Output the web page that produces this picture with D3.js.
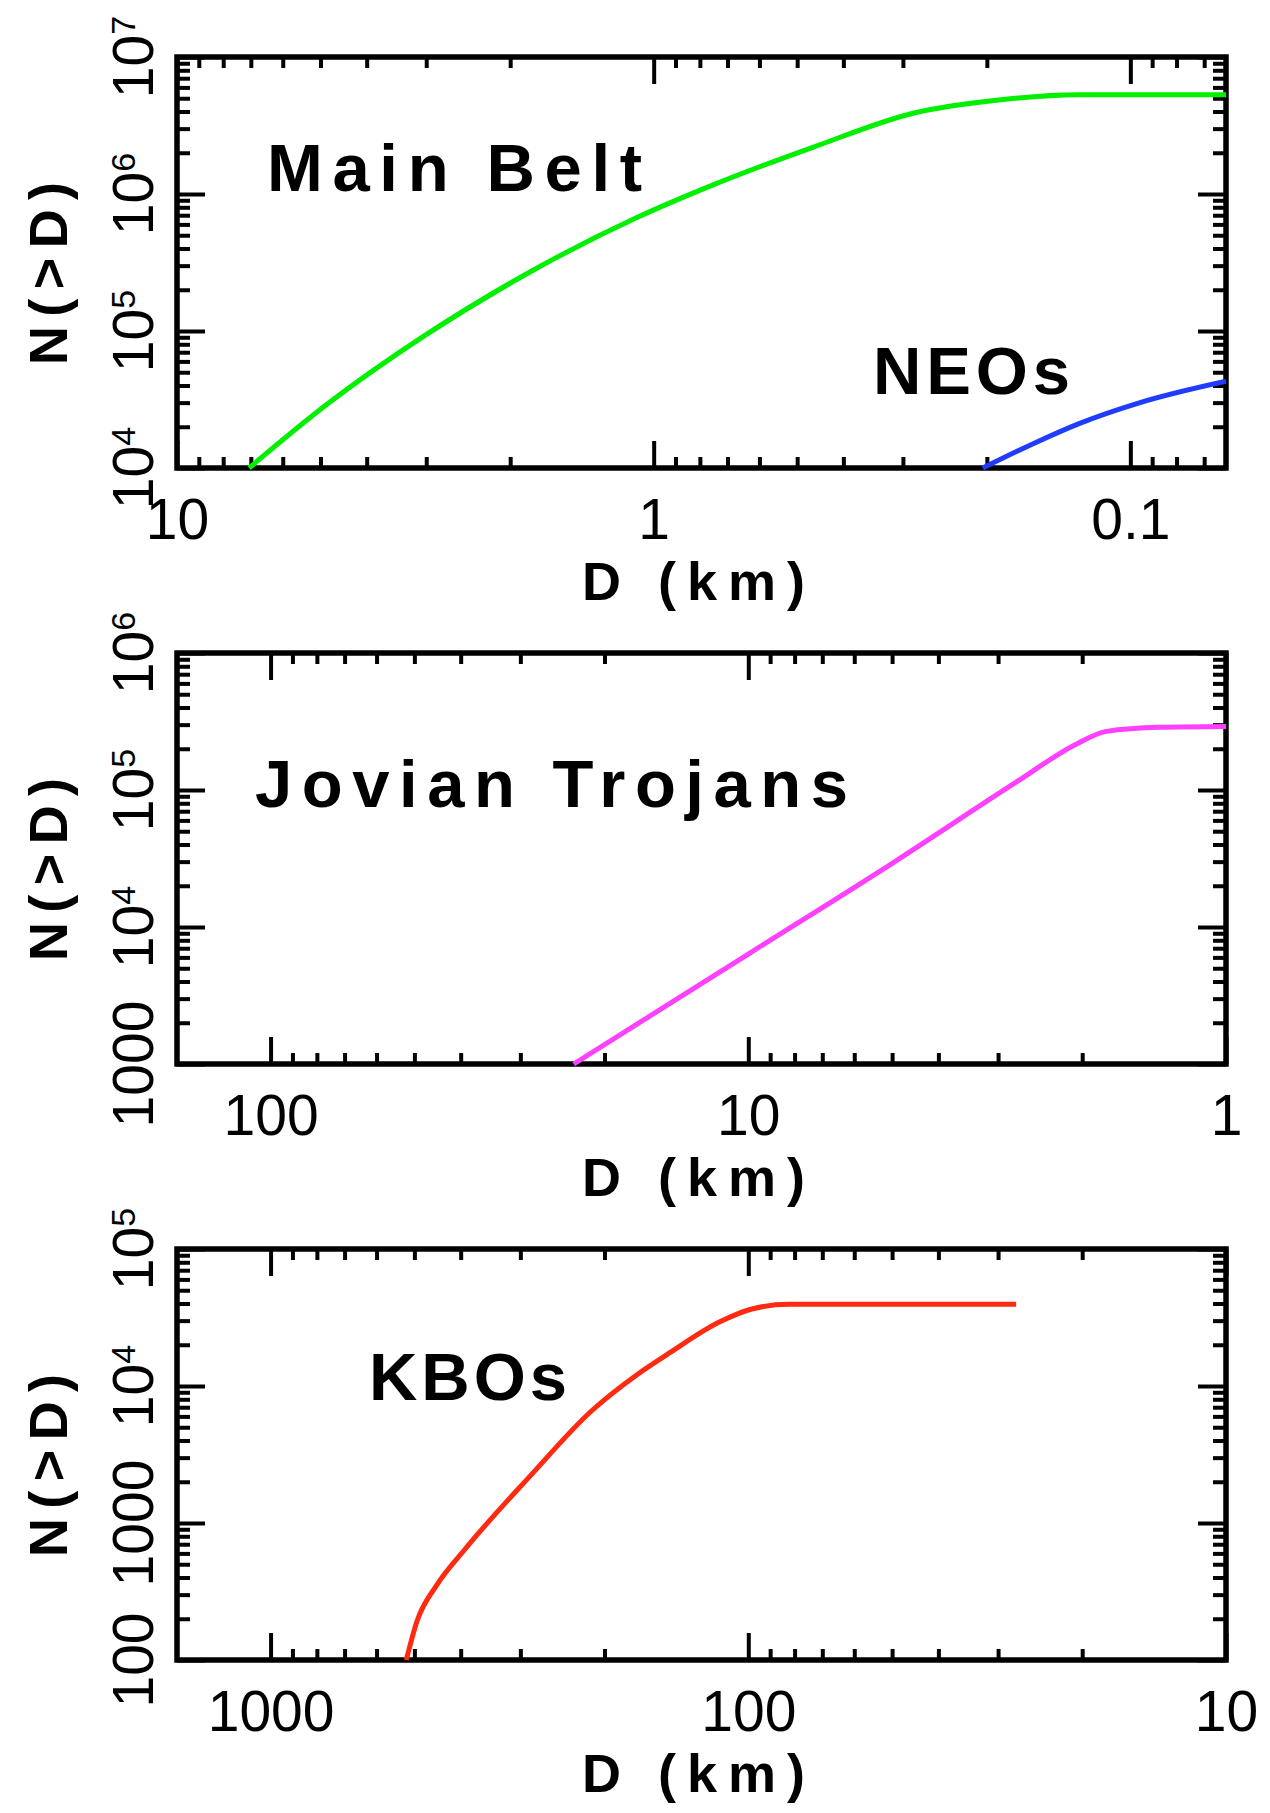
<!DOCTYPE html>
<html lang="en">
<head>
<meta charset="UTF-8">
<title>Cumulative size distributions</title>
<style>
  body { margin: 0; background: #fff; }
  svg text { font-family: "Liberation Sans", Arial, Helvetica, sans-serif; fill: #000; }
  .tick line { stroke: #000; stroke-width: 4; }
  .tick text { font-size: 57px; }
  .ylab { font-size: 57px; }
  .title { font-size: 54px; font-weight: bold; }
  .note { font-size: 67px; font-weight: bold; }
</style>
</head>
<body>
<svg id="chart"></svg>
<script src="https://d3js.org/d3.v7.min.js"></script>
<script>
// --- values: diameter D (km) -> cumulative number N(>D) ---
const mainBeltD = [7.06, 4.86, 3.03, 1.89, 1.087, 0.757, 0.462, 0.283, 0.191, 0.1285, 0.063];
const mainBeltN = [1e4, 2.89e4, 9.2e4, 2.5e5, 6.7e5, 1.15e6, 2.2e6, 3.92e6, 4.84e6, 5.31e6, 5.31e6];

const neoD = [0.204, 0.157, 0.1285, 0.0958, 0.063];
const neoN = [1e4, 1.55e4, 2.1e4, 2.99e4, 4.3e4];

const trojanD = [23.2, 9.83, 4.95, 2.75, 2.05, 1.78, 1.38, 1];
const trojanN = [1e3, 6.59e3, 2.98e4, 1.14e5, 2.18e5, 2.68e5, 2.87e5, 2.91e5];

const kboD = [520, 494, 449, 391, 286, 213, 171, 146, 115, 98.3, 82.4, 27.5];
const kboN = [100, 191, 352, 649, 2210, 6570, 12100, 17500, 29300, 36500, 39500, 39500];

// axis ranges (D runs from large to small)
const mainXDomain = [10, 0.063],  mainYDomain = [1e4, 1e7];
const trojXDomain = [157, 1],     trojYDomain = [1e3, 1e6];
const kboXDomain  = [1570, 10],   kboYDomain  = [100, 1e5];

// --- layout ---
const W = 1270, H = 1813;
const left = 177, right = 1226, panelH = 411;

const svg = d3.select("#chart").attr("width", W).attr("height", H);

const panels = [
  {
    top: 57, xDomain: mainXDomain, yDomain: mainYDomain,
    series: [
      {D: mainBeltD, N: mainBeltN, color: "#00f000"},
      {D: neoD, N: neoN, color: "#1f3cff"}
    ],
    notes: [
      {text: "Main Belt", x: 267, y: 191, len: 375},
      {text: "NEOs", x: 873, y: 394, len: 197}
    ]
  },
  {
    top: 653, xDomain: trojXDomain, yDomain: trojYDomain,
    series: [{D: trojanD, N: trojanN, color: "#ff40ff"}],
    notes: [{text: "Jovian Trojans", x: 255, y: 807, len: 593}]
  },
  {
    top: 1249, xDomain: kboXDomain, yDomain: kboYDomain,
    series: [{D: kboD, N: kboN, color: "#ff2a10"}],
    notes: [{text: "KBOs", x: 369, y: 1400, len: 198}]
  }
];

const isMajor = v => Math.abs(Math.log10(v) - Math.round(Math.log10(v))) < 1e-6;

function drawPanel(p, i) {
  const g = svg.append("g");
  const bottom = p.top + panelH;
  const x = d3.scaleLog().domain(p.xDomain).range([left, right]);
  const y = d3.scaleLog().domain(p.yDomain).range([bottom, p.top]);

  const xAll = x.ticks(), yAll = y.ticks();
  const xMajor = xAll.filter(isMajor), xMinor = xAll.filter(v => !isMajor(v));
  const yMajor = yAll.filter(isMajor), yMinor = yAll.filter(v => !isMajor(v));

  const noDomain = a => a.select(".domain").remove();

  // bottom axis, labelled majors + minors
  g.append("g").attr("transform", `translate(0,${bottom})`)
    .call(d3.axisBottom(x).tickValues(xMajor).tickSize(-27).tickPadding(31).tickFormat(d3.format("~g")))
    .call(noDomain);
  g.append("g").attr("transform", `translate(0,${bottom})`)
    .call(d3.axisBottom(x).tickValues(xMinor).tickSize(-11).tickFormat(""))
    .call(noDomain);
  // top axis (mirrored ticks)
  g.append("g").attr("transform", `translate(0,${p.top})`)
    .call(d3.axisTop(x).tickValues(xMajor).tickSize(-27).tickFormat(""))
    .call(noDomain);
  g.append("g").attr("transform", `translate(0,${p.top})`)
    .call(d3.axisTop(x).tickValues(xMinor).tickSize(-11).tickFormat(""))
    .call(noDomain);
  // left / right
  g.append("g").attr("transform", `translate(${left},0)`)
    .call(d3.axisLeft(y).tickValues(yMajor).tickSize(-28).tickFormat(""))
    .call(noDomain);
  g.append("g").attr("transform", `translate(${left},0)`)
    .call(d3.axisLeft(y).tickValues(yMinor).tickSize(-13).tickFormat(""))
    .call(noDomain);
  g.append("g").attr("transform", `translate(${right},0)`)
    .call(d3.axisRight(y).tickValues(yMajor).tickSize(-28).tickFormat(""))
    .call(noDomain);
  g.append("g").attr("transform", `translate(${right},0)`)
    .call(d3.axisRight(y).tickValues(yMinor).tickSize(-13).tickFormat(""))
    .call(noDomain);

  // y tick labels, rotated, IDL style: 10^n above 1000
  const yl = g.selectAll("text.ylab").data(yMajor).join("text")
    .attr("class", "ylab")
    .attr("text-anchor", "middle")
    .attr("transform", d => `translate(153,${y(d)}) rotate(-90)`);
  yl.each(function(d) {
    const t = d3.select(this);
    if (d <= 1000) { t.text(d3.format("~g")(d)); return; }
    t.append("tspan").text("10");
    t.append("tspan").attr("font-size", 34).attr("dy", -18).text(Math.round(Math.log10(d)));
  });

  // frame
  g.append("rect")
    .attr("x", left).attr("y", p.top)
    .attr("width", right - left).attr("height", panelH)
    .attr("fill", "none").attr("stroke", "#000").attr("stroke-width", 5.5);

  // curves
  const clipId = "clip" + i;
  g.append("clipPath").attr("id", clipId)
    .append("rect").attr("x", left).attr("y", p.top - 2)
    .attr("width", right - left).attr("height", panelH + 4);

  const line = d3.line().x(d => x(d[0])).y(d => y(d[1])).curve(d3.curveMonotoneX);
  p.series.forEach(s => {
    g.append("path")
      .attr("clip-path", `url(#${clipId})`)
      .attr("d", line(d3.zip(s.D, s.N)))
      .attr("fill", "none")
      .attr("stroke", s.color)
      .attr("stroke-width", 5)
      .attr("stroke-linejoin", "round");
  });

  // population names
  g.selectAll("text.note").data(p.notes).join("text")
    .attr("class", "note")
    .attr("x", d => d.x).attr("y", d => d.y)
    .attr("textLength", d => d.len).attr("lengthAdjust", "spacing")
    .text(d => d.text);

  // axis titles
  g.append("text").attr("class", "title")
    .attr("x", 582).attr("y", bottom + 132)
    .attr("textLength", 223).attr("lengthAdjust", "spacing")
    .text("D (km)");
  g.append("text").attr("class", "title")
    .attr("text-anchor", "middle")
    .attr("transform", `translate(67,${p.top + panelH / 2 + 11}) rotate(-90)`)
    .attr("textLength", 183).attr("lengthAdjust", "spacing")
    .text("N(>D)");
}

panels.forEach(drawPanel);
</script>
</body>
</html>
